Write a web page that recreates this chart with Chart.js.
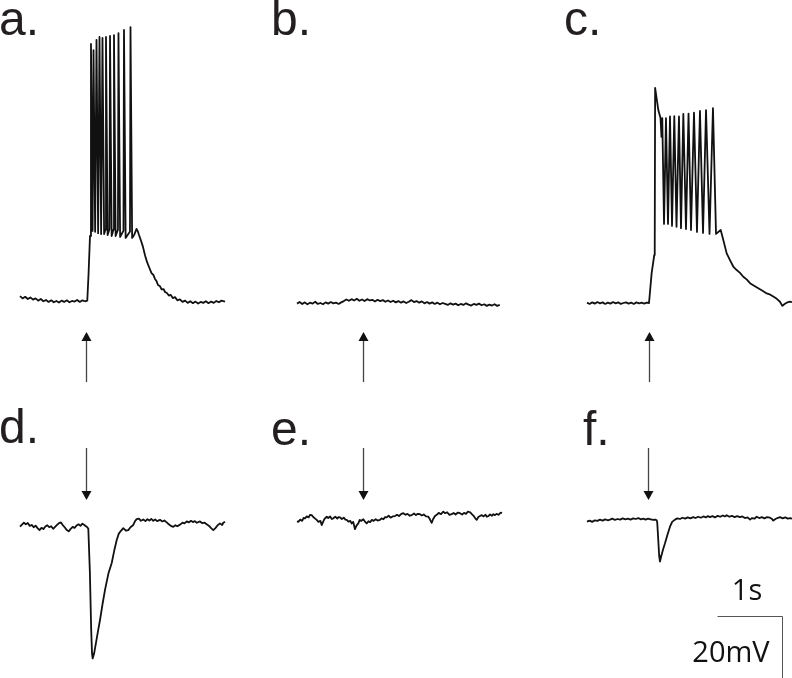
<!DOCTYPE html>
<html>
<head>
<meta charset="utf-8">
<script src="https://cdn.jsdelivr.net/npm/chart.js@4"></script>
<style>
  html, body { margin: 0; padding: 0; background: #fff; }
  #wrap { position: relative; width: 792px; height: 678px; }
</style>
</head>
<body>
<div id="wrap"><canvas id="traces"></canvas></div>
<script>
// recordings, time in s from trace start, voltage in mV relative to resting level
const traceA = [
  [0,1.2],[0.04,0.5],[0.08,1.0],[0.12,0.3],[0.16,0.8],[0.2,0.1],[0.24,0.5],[0.28,-0.2],[0.32,0.3],[0.36,-0.4],
  [0.4,0.0],[0.44,-0.6],[0.48,-0.1],[0.52,-0.7],[0.56,-0.3],[0.6,-0.8],[0.64,-0.2],[0.68,-0.6],[0.72,-0.1],[0.76,-0.7],
  [0.8,-0.3],[0.84,-0.5],[0.88,0.0],[0.92,-0.6],[0.96,-0.1],[1.0,-0.4],[1.035,-0.2],
  [1.054,7.8],[1.077,20.0],
  [1.092,80.0],[1.117,21.6],[1.131,78.1],[1.156,21.3],[1.177,81.3],[1.202,20.9],[1.223,82.2],[1.248,20.6],
  [1.269,81.9],[1.294,20.6],[1.315,22.0],[1.323,82.2],[1.348,20.3],[1.377,22.2],[1.385,82.5],[1.410,20.0],[1.438,22.0],
  [1.446,82.8],[1.471,20.0],[1.507,22.0],[1.515,83.4],[1.540,19.7],[1.592,21.7],[1.600,84.4],[1.625,19.4],[1.692,21.4],
  [1.700,85.3],[1.725,19.4],
  [1.760,20.5],[1.792,22.2],[1.812,21.5],[1.831,20.3],[1.862,18.5],[1.892,16.6],[1.923,14.0],[1.954,11.9],[1.985,10.3],
  [2.023,8.4],[2.05,7.9],[2.077,6.6],[2.10,5.9],[2.123,4.7],[2.15,4.4],[2.18,3.3],[2.21,3.4],[2.231,2.5],[2.26,2.2],
  [2.29,1.4],[2.32,1.6],[2.35,0.6],[2.385,0.9],[2.42,-0.1],[2.46,0.2],[2.5,-0.6],[2.54,-0.2],[2.58,-0.9],[2.62,-0.4],
  [2.66,-1.0],[2.70,-0.5],[2.74,-1.1],[2.78,-0.6],[2.82,-0.9],[2.86,-0.4],[2.90,-1.0],[2.94,-0.5],[2.98,-0.9],[3.02,-0.3],
  [3.06,-0.7],[3.10,-0.2],[3.154,-0.5]
];

// panel b is sampled every 40 ms
const bStep = 0.04;
const traceBVolt = [
  -0.2,0.3,-0.3,0.2,-0.4,0.1,-0.2,0.4,-0.3,0.0,-0.4,0.2,-0.2,0.3,-0.1,0.1,-0.3,0.2,0.6,1.1,
  0.7,1.2,0.8,1.3,0.7,1.1,0.6,1.2,0.8,1.0,0.5,1.0,0.6,0.9,0.4,0.8,0.3,0.7,0.2,0.6,
  0.1,0.5,0.0,0.4,0.9,0.3,0.6,0.1,0.5,-0.1,0.3,-0.2,0.2,-0.3,0.1,-0.4,0.0,-0.3,-0.6,-0.1,
  -0.5,-0.2,-0.7,-0.3,-0.6,-0.1,-0.5,-0.8,-0.3,-0.6,-0.2,-0.7,-0.4,-0.9,-0.5,-0.8,-0.4,-0.9,-0.6
];

const traceC = [
  [0,0.1],[0.04,-0.3],[0.08,0.2],[0.12,-0.2],[0.16,0.3],[0.2,-0.1],[0.24,0.2],[0.28,-0.3],[0.32,0.1],[0.36,-0.2],
  [0.4,0.3],[0.44,-0.1],[0.48,0.2],[0.52,-0.3],[0.56,0.0],[0.6,0.2],[0.64,-0.2],[0.68,0.1],[0.72,-0.3],[0.76,0.2],
  [0.8,-0.1],[0.84,0.1],[0.88,-0.2],[0.92,0.1],[0.954,0.0],
  [0.995,9.4],[1.035,15.0],[1.042,17.0],[1.048,67.2],[1.097,60.3],[1.131,57.8],[1.146,51.9],[1.158,57.8],[1.185,24.7],
  [1.215,57.8],[1.246,24.7],[1.277,58.3],[1.308,24.1],[1.343,58.4],[1.377,23.8],[1.415,58.3],[1.446,23.4],
  [1.482,59.1],[1.523,23.1],[1.562,59.2],[1.600,22.8],[1.646,59.5],[1.692,22.2],[1.738,60.0],[1.785,21.9],
  [1.831,60.3],[1.885,21.6],[1.938,60.9],[1.985,21.6],
  [2.057,22.8],[2.097,19.7],[2.149,15.5],[2.2,13.4],[2.25,11.4],[2.303,10.3],[2.35,9.5],[2.405,8.2],[2.46,7.3],
  [2.508,6.2],[2.57,5.4],[2.635,4.6],[2.70,3.8],[2.765,3.0],[2.82,2.6],[2.866,2.0],[2.92,1.3],[2.969,0.4],
  [3.005,-0.9],[3.04,-0.3],[3.072,0.1],[3.123,0.4],[3.154,0.3]
];

const traceD = [
  [0,-0.8],[0.03,-0.2],[0.06,0.4],[0.09,-0.1],[0.12,0.3],[0.15,-0.6],[0.18,-0.3],[0.21,-1.0],[0.24,-0.5],[0.27,-1.3],
  [0.30,-1.9],[0.33,-1.2],[0.36,-1.6],[0.39,-0.8],[0.42,-0.4],[0.45,-1.0],[0.48,-0.7],[0.51,-1.5],[0.54,-0.9],[0.57,-0.3],
  [0.60,0.3],[0.63,0.5],[0.66,-0.4],[0.69,-1.1],[0.72,-1.9],[0.75,-2.3],[0.78,-1.5],[0.81,-0.9],[0.84,-1.2],[0.87,-0.5],
  [0.90,-0.1],[0.93,-0.6],[0.96,0.1],[0.99,-0.3],[1.02,-0.8],[1.035,-1.0],
  [1.051,-1.5],[1.075,-15],[1.095,-33],[1.108,-40.5],[1.118,-42.0],[1.14,-40.5],[1.17,-37],[1.20,-33.5],[1.231,-30],
  [1.27,-25],[1.308,-20.6],[1.36,-15.5],[1.411,-12.2],[1.45,-8.3],[1.488,-5.0],[1.52,-3.0],[1.55,-2.2],[1.589,-1.3],
  [1.63,-2.1],[1.666,-1.9],[1.70,-1.0],[1.743,-0.3],[1.77,0.9],[1.795,1.5],
  [1.83,1.7],[1.86,1.0],[1.897,1.4],[1.93,0.9],[1.96,1.5],[1.99,1.1],[2.02,1.6],[2.05,1.0],[2.08,1.4],[2.11,0.9],
  [2.154,1.3],[2.19,0.8],[2.22,1.1],[2.257,0.5],[2.29,-0.1],[2.32,-0.6],[2.358,-0.9],[2.39,-0.4],[2.42,-0.7],[2.462,-0.2],
  [2.50,0.4],[2.53,0.2],[2.565,0.8],[2.60,0.5],[2.63,1.0],[2.66,0.6],[2.69,0.9],[2.72,0.4],[2.769,0.8],[2.80,0.3],
  [2.84,0.4],[2.872,-0.1],[2.91,-0.6],[2.94,-1.3],[2.974,-1.9],[3.01,-1.2],[3.04,-0.4],[3.077,0.2],[3.11,-0.3],[3.128,0.4],
  [3.154,0.7]
];

const traceE = [
  [0.0,-1.0],[0.02,-1.2],[0.05,-0.5],[0.08,-0.9],[0.10,0.0],[0.123,-0.1],[0.15,0.5],[0.18,0.2],[0.20,1.0],[0.226,0.9],
  [0.25,0.3],[0.28,-0.2],[0.303,-0.6],[0.33,-1.2],[0.36,-0.9],[0.38,-2.2],[0.41,-0.8],[0.43,-0.1],[0.457,0.4],[0.48,0.0],
  [0.51,0.5],[0.535,-0.3],[0.558,-0.1],[0.59,0.4],[0.62,-0.2],[0.64,0.3],[0.662,0.2],[0.69,-0.3],[0.72,0.1],[0.745,-0.5],
  [0.765,-0.6],[0.79,-1.1],[0.82,-0.9],[0.842,-1.7],[0.865,-1.2],[0.892,-3.5],[0.915,-2.4],[0.943,-1.7],[0.965,-0.6],[0.99,-0.9],
  [1.02,-0.4],[1.045,-1.1],[1.072,-1.7],[1.10,-1.0],[1.125,-1.3],[1.149,-0.6],[1.18,-0.9],[1.21,-0.4],[1.24,-0.8],[1.277,-0.6],
  [1.30,-0.1],[1.33,-0.4],[1.355,0.3],[1.38,0.2],[1.41,0.7],[1.44,0.1],[1.47,0.5],[1.508,0.6],[1.54,1.0],[1.57,0.6],
  [1.60,1.2],[1.635,1.5],[1.67,1.0],[1.70,1.3],[1.735,0.7],[1.765,0.9],[1.80,1.4],[1.83,0.9],[1.86,1.3],[1.892,1.2],
  [1.92,0.8],[1.95,1.1],[1.985,0.5],[2.02,0.4],[2.045,-0.4],[2.072,-1.5],[2.095,-0.3],[2.123,0.6],[2.15,1.0],[2.18,1.6],
  [2.215,1.2],[2.251,2.0],[2.28,1.5],[2.31,1.8],[2.345,1.0],[2.38,1.2],[2.41,1.6],[2.44,1.1],[2.475,1.7],[2.508,1.5],
  [2.54,1.1],[2.57,1.6],[2.60,1.3],[2.63,2.0],[2.662,1.8],[2.69,1.2],[2.72,0.6],[2.745,-0.2],[2.765,-0.6],[2.79,0.3],
  [2.815,0.6],[2.842,0.9],[2.87,0.5],[2.90,1.0],[2.92,0.4],[2.943,0.6],[2.97,1.1],[3.00,0.7],[3.02,1.2],[3.046,0.9],
  [3.07,1.3],[3.10,1.0],[3.134,1.7],[3.154,1.5]
];

const traceF = [
  [0,-0.8],[0.04,-0.5],[0.08,-0.9],[0.12,-0.4],[0.16,-0.6],[0.2,-0.2],[0.24,-0.5],[0.28,-0.1],[0.32,-0.4],[0.354,-0.2],
  [0.39,0.1],[0.43,-0.3],[0.47,0.0],[0.51,-0.2],[0.55,0.2],[0.59,-0.1],[0.63,0.1],[0.67,-0.2],[0.71,0.2],[0.75,0.0],
  [0.79,0.3],[0.83,-0.1],[0.866,0.1],[0.90,-0.2],[0.94,0.1],[0.98,-0.1],[1.02,-0.3],[1.05,-0.2],[1.072,-0.4],
  [1.080,-1.0],[1.095,-6],[1.11,-11.5],[1.123,-13.3],[1.14,-11.8],[1.17,-9.5],[1.2,-7.6],[1.24,-4.8],[1.277,-2.4],
  [1.31,-0.9],[1.354,-0.2],
  [1.39,0.2],[1.43,0.0],[1.47,0.4],[1.51,0.1],[1.55,0.5],[1.59,0.2],[1.635,0.6],[1.67,0.3],[1.71,0.7],[1.75,0.4],
  [1.79,0.8],[1.83,0.5],[1.86,0.9],[1.892,0.6],[1.93,0.9],[1.97,0.5],[2.01,1.0],[2.05,0.7],[2.09,1.1],[2.12,0.8],
  [2.149,1.2],[2.19,0.7],[2.23,1.0],[2.27,0.6],[2.31,0.9],[2.354,0.6],[2.39,0.8],[2.43,0.3],[2.47,0.5],[2.508,-0.2],
  [2.54,0.3],[2.575,0.1],[2.611,0.7],[2.65,0.3],[2.69,0.6],[2.73,0.2],[2.77,0.6],[2.815,0.4],[2.84,0.1],[2.866,-0.5],
  [2.90,0.0],[2.93,0.3],[2.969,0.6],[3.01,0.2],[3.05,0.5],[3.09,0.1],[3.123,0.3],[3.154,0.1]
];

// stimulus onset (s from trace start) for each panel
const stimTimes = [1.015, 1.015, 0.954, 1.015, 1.015, 0.94];
const panelLabels = ['a.', 'b.', 'c.', 'd.', 'e.', 'f.'];
const scaleBarSec = 1;
const scaleBarMv = 20;

// figure layout (pixels)
const SEC_PX = 65, MV_PX = 3.2, W = 792, H = 678;
const layout = [
  { left: 20,  base: 300, labelX: -1,  labelY: 35,  arrow: 'up'   },
  { left: 297, base: 303, labelX: 271, labelY: 35,  arrow: 'up'   },
  { left: 587, base: 303, labelX: 564, labelY: 35,  arrow: 'up'   },
  { left: 20,  base: 524, labelX: -1,  labelY: 443, arrow: 'down' },
  { left: 297, base: 518, labelX: 271, labelY: 445, arrow: 'down' },
  { left: 587, base: 519, labelX: 583, labelY: 445, arrow: 'down' }
];

const traceB = traceBVolt.map((v, i) => [i * bStep, v]);
const traces = [traceA, traceB, traceC, traceD, traceE, traceF];

function place(trace, lay) {
  return trace.map(p => ({ x: lay.left / SEC_PX + p[0], y: p[1] - lay.base / MV_PX }));
}

const datasets = traces.map((tr, i) => ({
  label: panelLabels[i],
  data: place(tr, layout[i]),
  showLine: true,
  borderColor: '#111',
  borderWidth: 1.8,
  pointRadius: 0,
  tension: 0,
  borderJoinStyle: 'round'
}));

const decorations = {
  id: 'decorations',
  afterDraw(chart) {
    const ctx = chart.ctx;
    const xs = chart.scales.x, ys = chart.scales.y;
    ctx.save();

    // panel letters
    ctx.fillStyle = '#231f20';
    ctx.font = '48px "Liberation Sans", Arial, sans-serif';
    ctx.textAlign = 'left';
    ctx.textBaseline = 'alphabetic';
    layout.forEach((lay, i) => ctx.fillText(panelLabels[i], lay.labelX, lay.labelY));

    // stimulus arrows
    layout.forEach((lay, i) => {
      const ax = Math.round(xs.getPixelForValue(lay.left / SEC_PX + stimTimes[i])) + 0.5;
      let tip, tail;
      if (lay.arrow === 'up') { tip = 332; tail = 382; } else { tip = 500; tail = 448; }
      const dir = lay.arrow === 'up' ? 1 : -1;
      ctx.strokeStyle = '#444';
      ctx.lineWidth = 1.3;
      ctx.beginPath();
      ctx.moveTo(ax, tail);
      ctx.lineTo(ax, tip + dir * 8);
      ctx.stroke();
      ctx.fillStyle = '#111';
      ctx.beginPath();
      ctx.moveTo(ax, tip);
      ctx.lineTo(ax - 5, tip + dir * 9);
      ctx.lineTo(ax + 5, tip + dir * 9);
      ctx.closePath();
      ctx.fill();
    });

    // scale bar
    const secPx = xs.getPixelForValue(scaleBarSec) - xs.getPixelForValue(0);
    const mvPx = ys.getPixelForValue(-scaleBarMv) - ys.getPixelForValue(0);
    const cx = 782.5, cy = 616.5;
    ctx.strokeStyle = '#555';
    ctx.lineWidth = 1;
    ctx.beginPath();
    ctx.moveTo(cx - secPx, cy);
    ctx.lineTo(cx, cy);
    ctx.lineTo(cx, cy + mvPx);
    ctx.stroke();

    ctx.fillStyle = '#111';
    ctx.font = '29px "Open Sans", sans-serif';
    ctx.textAlign = 'center';
    ctx.fillText(scaleBarSec + 's', 747, 600);
    ctx.fillText(scaleBarMv + 'mV', 731, 662);
    ctx.restore();
  }
};

new Chart(document.getElementById('traces'), {
  type: 'scatter',
  data: { datasets: datasets },
  options: {
    responsive: true,
    maintainAspectRatio: false,
    animation: false,
    layout: { padding: 0 },
    plugins: { legend: { display: false }, tooltip: { enabled: false } },
    scales: {
      x: { type: 'linear', display: false, min: 0, max: W / SEC_PX },
      y: { type: 'linear', display: false, min: -H / MV_PX, max: 0 }
    }
  },
  plugins: [decorations]
});
</script>
</body>
</html>
